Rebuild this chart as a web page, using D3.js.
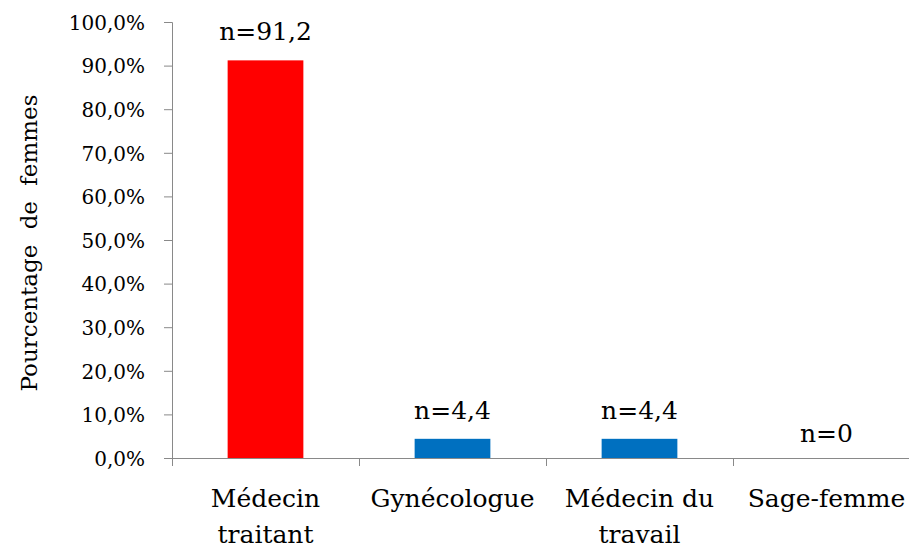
<!DOCTYPE html>
<html>
<head>
<meta charset="utf-8">
<script src="https://cdn.jsdelivr.net/npm/d3@7"></script>
</head>
<body style="margin:0">
<div id="chart"></div>
<script>
// data
let categories = [["Médecin", "traitant"], ["Gynécologue"], ["Médecin du", "travail"], ["Sage-femme"]];
let values = [91.2, 4.4, 4.4, 0];
let labels = ["n=91,2", "n=4,4", "n=4,4", "n=0"];
let barColors = ["#FF0000", "#0070C0", "#0070C0", "#0070C0"];
let yTicks = [0, 10, 20, 30, 40, 50, 60, 70, 80, 90, 100];

let font = "DejaVu Serif";
let axisColor = "#898989";

let margin = {top: 22, right: -11, bottom: 91, left: 172},
    width = 909 - margin.left - margin.right,
    height = 549 - margin.top - margin.bottom;

let x = d3.scaleBand()
    .domain(d3.range(categories.length))
    .range([0, width])
    .padding(0);
let y = d3.scaleLinear()
    .domain([0, 100])
    .range([height, 0]);

let root = d3.select("#chart").append("svg")
    .attr("width", 909)
    .attr("height", 549)
    .attr("font-family", font);
let svg = root.append("g")
    .attr("transform", "translate(" + margin.left + "," + margin.top + ")");

// y axis
let yAxis = svg.append("g")
    .call(d3.axisLeft(y).tickValues(yTicks).tickSize(8).tickPadding(19)
        .tickFormat(d => d.toFixed(1).replace(".", ",") + "%"))
    .attr("font-family", font)
    .attr("font-size", 20);
yAxis.select(".domain").attr("stroke", axisColor).attr("d", "M-8,0.5H0.5V" + (height + 0.5));
yAxis.selectAll(".tick line").attr("stroke", axisColor);
yAxis.selectAll(".tick text")
    .attr("fill", "#000")
    .attr("dy", "0.36em");

// x axis
let xAxis = svg.append("g")
    .attr("transform", "translate(0," + height + ")")
    .call(d3.axisBottom(x).tickSize(0).tickFormat(""));
xAxis.select(".domain").attr("stroke", axisColor);
xAxis.selectAll(".tick").remove();
xAxis.selectAll(".sep")
    .data(d3.range(categories.length))
    .enter().append("line")
    .attr("x1", d => x(d) + 0.5)
    .attr("x2", d => x(d) + 0.5)
    .attr("y1", 0)
    .attr("y2", 8)
    .attr("stroke", axisColor);

// category labels
let catText = svg.selectAll(".cat")
    .data(categories)
    .enter().append("text")
    .attr("class", "cat")
    .attr("font-family", font)
    .attr("font-size", 25)
    .attr("text-anchor", "middle")
    .attr("x", (d, i) => x(i) + x.bandwidth() / 2)
    .attr("y", height + 49);
catText.selectAll("tspan")
    .data(d => d)
    .enter().append("tspan")
    .attr("x", function() { return this.parentNode.getAttribute("x"); })
    .attr("dy", (d, i) => i === 0 ? 0 : 36)
    .text(d => d);

// bars
let barW = x.bandwidth() * 0.405;
svg.selectAll(".bar")
    .data(values)
    .enter().append("rect")
    .attr("class", "bar")
    .attr("x", (d, i) => x(i) + (x.bandwidth() - barW) / 2)
    .attr("width", barW)
    .attr("y", d => y(d))
    .attr("height", d => height - y(d))
    .attr("fill", (d, i) => barColors[i]);

// value labels
svg.selectAll(".lbl")
    .data(values)
    .enter().append("text")
    .attr("class", "lbl")
    .attr("font-family", font)
    .attr("font-size", 25)
    .attr("text-anchor", "middle")
    .attr("x", (d, i) => x(i) + x.bandwidth() / 2)
    .attr("y", d => y(d) - (d > 0 ? 20 : 16))
    .text((d, i) => labels[i]);

// y axis title
root.append("text")
    .attr("transform", "translate(37,243) rotate(-90)")
    .attr("font-family", font)
    .attr("font-size", 23)
    .attr("text-anchor", "middle")
    .attr("word-spacing", 8)
    .text("Pourcentage de femmes");
</script>
</body>
</html>
